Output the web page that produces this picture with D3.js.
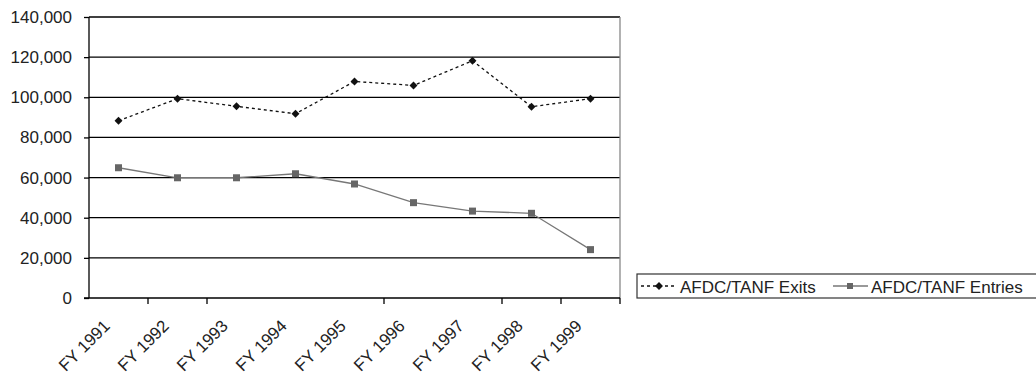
<!DOCTYPE html>
<html>
<head>
<meta charset="utf-8">
<script src="https://cdn.jsdelivr.net/npm/d3@7"></script>
<style>
  body { margin: 0; background: #fff; }
  svg text { font-family: "Liberation Sans", Arial, sans-serif; fill: #222; }
</style>
</head>
<body>
<svg id="chart" width="1036" height="375"></svg>
<script>
const years = ["FY 1991", "FY 1992", "FY 1993", "FY 1994", "FY 1995", "FY 1996", "FY 1997", "FY 1998", "FY 1999"];
const exits = [88300, 99300, 95500, 91800, 107900, 105900, 118200, 95300, 99300];
const entries = [64900, 59900, 59900, 61900, 56800, 47500, 43300, 42200, 24100];
const yTicks = [0, 20000, 40000, 60000, 80000, 100000, 120000, 140000];
// category boundaries that got a tick mark in the original (1 = after FY 1991)
const tickBoundaries = [1, 2, 5, 7, 8, 9];

const plotLeft = 89, plotRight = 620, plotTop = 17, plotBottom = 298;

const svg = d3.select("#chart");

const x = d3.scaleBand().domain(years).range([plotLeft, plotRight]).padding(0);
const y = d3.scaleLinear().domain([0, 140000]).range([plotBottom, plotTop]);
const cx = function(d) { return x(d) + x.bandwidth() / 2; };

// gridlines
svg.selectAll("line.grid")
  .data(yTicks.filter(function(v) { return v > 0; }))
  .enter().append("line")
  .attr("x1", plotLeft).attr("x2", plotRight)
  .attr("y1", function(d) { return y(d); })
  .attr("y2", function(d) { return y(d); })
  .attr("stroke", "#000").attr("stroke-width", 1.3);

// right border of plot area
svg.append("line")
  .attr("x1", plotRight).attr("x2", plotRight).attr("y1", plotTop).attr("y2", plotBottom)
  .attr("stroke", "#888").attr("stroke-width", 1.3);

// y axis
const yAxis = d3.axisLeft(y).tickValues(yTicks).tickSize(5).tickPadding(12)
  .tickFormat(d3.format(","));
svg.append("g").attr("transform", "translate(" + plotLeft + ",0)").call(yAxis)
  .call(function(g) {
    g.select(".domain").attr("stroke", "#000").attr("stroke-width", 1.3).attr("d", "M0," + plotTop + "V" + plotBottom);
    g.selectAll(".tick line").attr("stroke", "#000").attr("stroke-width", 1.3);
    g.selectAll("text").attr("font-size", 17).style("font-family", "Liberation Sans, Arial, sans-serif").attr("fill", "#222");
  });

// x axis line
svg.append("line")
  .attr("x1", plotLeft - 5).attr("x2", plotRight).attr("y1", plotBottom).attr("y2", plotBottom)
  .attr("stroke", "#000").attr("stroke-width", 1.3);

svg.selectAll("line.xtick")
  .data(tickBoundaries)
  .enter().append("line")
  .attr("x1", function(k) { return plotLeft + k * x.bandwidth(); })
  .attr("x2", function(k) { return plotLeft + k * x.bandwidth(); })
  .attr("y1", plotBottom).attr("y2", plotBottom + 6)
  .attr("stroke", "#000").attr("stroke-width", 1.3);

svg.selectAll("text.xlab")
  .data(years)
  .enter().append("text")
  .attr("font-size", 17)
  .attr("text-anchor", "end")
  .attr("transform", function(d) { return "translate(" + (cx(d) - 7.5) + "," + 327 + ") rotate(-45)"; })
  .text(function(d) { return d; });

// lines
const line = d3.line().x(function(d, i) { return cx(years[i]); }).y(function(d) { return y(d); });

svg.append("path").datum(exits)
  .attr("d", line).attr("fill", "none")
  .attr("stroke", "#111").attr("stroke-width", 1.3).attr("stroke-dasharray", "3,3");

svg.append("path").datum(entries)
  .attr("d", line).attr("fill", "none")
  .attr("stroke", "#777").attr("stroke-width", 1.3);

const diamond = d3.symbol().type(d3.symbolDiamond2).size(40);

svg.selectAll("path.exitPt")
  .data(exits)
  .enter().append("path")
  .attr("d", diamond)
  .attr("transform", function(d, i) { return "translate(" + cx(years[i]) + "," + y(d) + ")"; })
  .attr("fill", "#111");

svg.selectAll("rect.entryPt")
  .data(entries)
  .enter().append("rect")
  .attr("x", function(d, i) { return cx(years[i]) - 3.5; })
  .attr("y", function(d) { return y(d) - 3.5; })
  .attr("width", 7).attr("height", 7)
  .attr("fill", "#666");

// legend
const lg = svg.append("g");
lg.append("rect")
  .attr("x", 637).attr("y", 274).attr("width", 410).attr("height", 24)
  .attr("fill", "#fff").attr("stroke", "#333").attr("stroke-width", 1.2);

lg.append("line").attr("x1", 641).attr("x2", 677).attr("y1", 286).attr("y2", 286)
  .attr("stroke", "#111").attr("stroke-width", 1.3).attr("stroke-dasharray", "3,3");
lg.append("path").attr("d", diamond).attr("transform", "translate(659,286)").attr("fill", "#111");
lg.append("text").attr("x", 680).attr("y", 292.5).attr("font-size", 17).text("AFDC/TANF Exits");

lg.append("line").attr("x1", 833).attr("x2", 868).attr("y1", 286).attr("y2", 286)
  .attr("stroke", "#777").attr("stroke-width", 1.3);
lg.append("rect").attr("x", 847).attr("y", 283).attr("width", 6).attr("height", 6).attr("fill", "#666");
lg.append("text").attr("x", 871).attr("y", 292.5).attr("font-size", 17).text("AFDC/TANF Entries");
</script>
</body>
</html>
